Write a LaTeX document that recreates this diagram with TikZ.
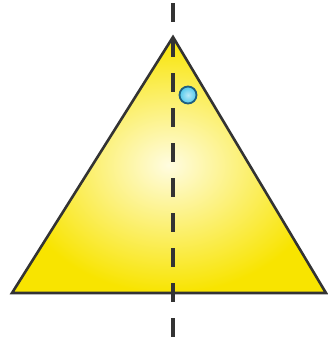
\documentclass[tikz,border=0pt]{standalone}
\usepackage{xcolor}
\definecolor{trink}{HTML}{333333}
\definecolor{tryellow}{HTML}{F8E400}
\definecolor{trpale}{HTML}{FFFCE0}
\definecolor{dotrim}{HTML}{1F5F80}
\definecolor{dotfill}{HTML}{4FC8EC}
\usetikzlibrary{calc}
\tikzset{
  trface/.style  ={draw=trink, line width=2.6pt, line join=miter,
                   inner color=trpale, outer color=tryellow},
  traxis/.style  ={draw=trink, line width=3.4pt, dash pattern=on 19pt off 16pt},
  trdot/.style   ={circle, draw=dotrim, line width=1.8pt, inner sep=0pt,
                   minimum size=17pt, inner color=dotfill!40!white, outer color=dotfill},
}
\begin{document}
\begin{tikzpicture}[x=1pt,y=-1pt]
  \useasboundingbox (0,0) rectangle (328,341);
  \coordinate (apex) at (173,37);
  \coordinate (left) at (12,293);
  \coordinate (right) at (326,293);
  \coordinate (top) at (173,3);
  \coordinate (bottom) at (173,340);
  \shade[trface] (apex) -- (left) -- (right) -- cycle;
  \draw[traxis] (top) -- (bottom);
  \node[trdot] (dot) at (188,95) {};
\end{tikzpicture}
\end{document}
